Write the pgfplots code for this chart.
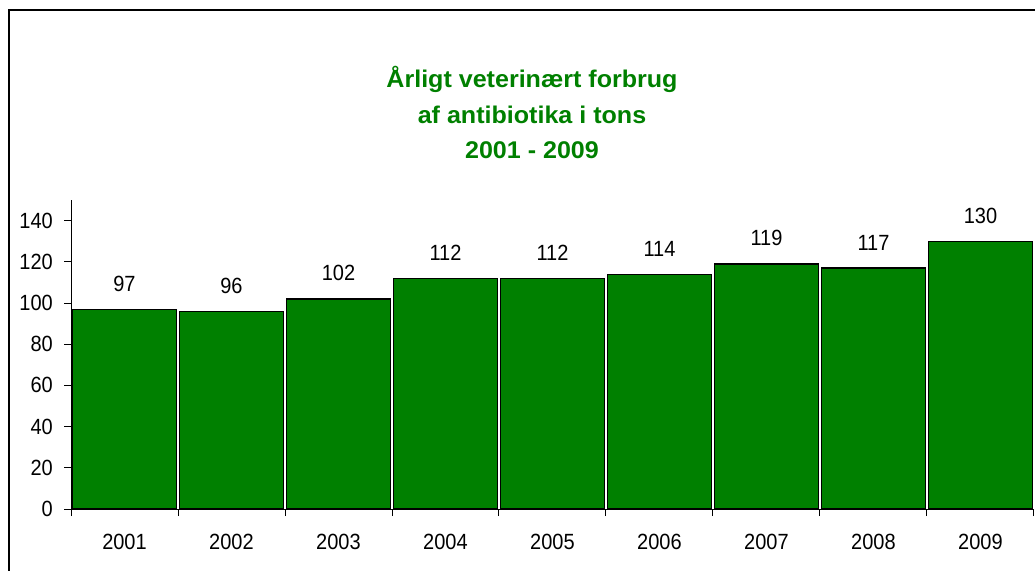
\documentclass[border=0pt]{standalone}
\usepackage{pgfplots}
\pgfplotsset{compat=1.18}
\usepackage{fontspec}
\setmainfont{Liberation Sans}
\definecolor{barg}{RGB}{0,128,0}
\begin{document}
\begin{tikzpicture}[x=1pt,y=1pt]
\useasboundingbox (0,0) rectangle (1035,570);
\draw[line width=1.3pt] (9,-5) -- (9,560) -- (1040,560);
\node[anchor=base, font=\bfseries\fontsize{23}{27}\selectfont, text=barg, xscale=1.09, yscale=1.05] at (532,482) {Årligt veterinært forbrug};
\node[anchor=base, font=\bfseries\fontsize{23}{27}\selectfont, text=barg, xscale=1.09, yscale=1.05] at (532,446) {af antibiotika i tons};
\node[anchor=base, font=\bfseries\fontsize{23}{27}\selectfont, text=barg, xscale=1.09, yscale=1.05] at (532,411) {2001 - 2009};
\begin{axis}[
  at={(71pt,61pt)}, anchor=south west,
  scale only axis, width=963pt, height=309pt,
  xmin=2000.5, xmax=2009.5, ymin=0, ymax=150,
  axis lines=left, axis line style={-, line width=0.9pt, black},
  /pgf/number format/assume math mode=true,
  tick align=outside,
  major tick length=7pt,
  tick style={line width=0.9pt, black},
  ytick={0,20,...,140},
  xtick={2000.5,2001.5,...,2009.5},
  xticklabels={},
  extra x ticks={2001,2002,...,2009},
  extra x tick labels={2001,2002,2003,2004,2005,2006,2007,2008,2009},
  extra x tick style={major tick length=0pt},
  tick label style={font=\fontsize{20}{24}\selectfont, text=black, yscale=1.1},
  yticklabel style={inner sep=0pt, xshift=-11pt},
  xticklabel style={inner sep=0pt, yshift=-23pt},
  ybar, bar width=0.97,
  nodes near coords,
  nodes near coords style={font=\fontsize{20}{24}\selectfont, text=black, anchor=south, inner sep=0pt, yshift=17pt, yscale=1.1},
  clip=false,
]
\addplot[fill=barg, draw=black, line width=1.3pt] coordinates {
(2001,97) (2002,96) (2003,102) (2004,112) (2005,112) (2006,114) (2007,119) (2008,117) (2009,130)
};
\end{axis}
\end{tikzpicture}
\end{document}
